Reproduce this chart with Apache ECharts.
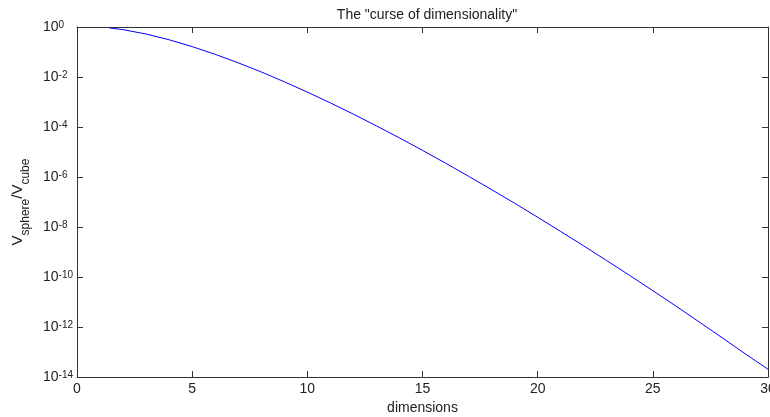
<!DOCTYPE html>
<html>
<head>
<meta charset="utf-8">
<script src="https://cdn.jsdelivr.net/npm/echarts@6/dist/echarts.min.js"></script>
<style>html,body{margin:0;padding:0;background:#fff}#c{width:770px;height:417px}</style>
</head>
<body>
<div id="c"></div>
<script>
var titleText = 'The "curse of dimensionality"';
var xLabel = 'dimensions';
var dims = [1.4, 2, 3, 4, 5, 6, 7, 8, 9, 10, 11, 12, 13, 14, 15, 16, 17, 18, 19, 20, 21, 22, 23, 24, 25, 26, 27, 28, 29, 30];
var ratios = [0.92, 0.785, 0.524, 0.308, 0.164, 0.0807, 0.0369, 0.0159, 0.00644, 0.00249, 9.2e-4, 3.26e-4, 1.11e-4, 3.66e-5, 1.16e-5, 3.59e-6, 1.07e-6, 3.13e-7, 8.9e-8, 2.46e-8, 6.6e-9, 1.76e-9, 4.5e-10, 1.15e-10, 2.84e-11, 6.9e-12, 1.62e-12, 3.76e-13, 8.6e-14, 2.04e-14];
var xTicks = [0, 5, 10, 15, 20, 25, 30];
var yExponents = [0, -2, -4, -6, -8, -10, -12, -14];

var font = 'Liberation Sans, Arial, sans-serif';
var axisColor = '#333';
var textColor = '#222';
var chart = echarts.init(document.getElementById('c'));
var data = dims.map(function (d, i) { return [d, ratios[i]]; });

function yFmt(v) {
  var e = Math.round(Math.log(v) / Math.LN10);
  return '{b|10}{s|' + e + '}';
}
var yRich = {
  b: { fontSize: 14, fontFamily: font, color: textColor, lineHeight: 14, verticalAlign: 'middle' },
  s: { fontSize: 10, fontFamily: font, color: textColor, lineHeight: 10, verticalAlign: 'top' }
};

var commonX = {
  type: 'value', min: xTicks[0], max: xTicks[xTicks.length - 1], interval: 5,
  axisLine: { show: true, onZero: false, lineStyle: { color: axisColor, width: 1 } },
  axisTick: { show: true, inside: true, length: 6, lineStyle: { color: axisColor } },
  splitLine: { show: false }
};
var commonY = {
  type: 'log', logBase: 10, min: Math.pow(10, yExponents[yExponents.length - 1]), max: Math.pow(10, yExponents[0]), interval: 2,
  axisLine: { show: true, onZero: false, lineStyle: { color: axisColor, width: 1 } },
  axisTick: { show: true, inside: true, length: 6, lineStyle: { color: axisColor } },
  splitLine: { show: false }
};

chart.setOption({
  animation: false,
  backgroundColor: '#fff',
  title: {
    text: titleText, left: 422, top: 3, textAlign: 'center',
    textStyle: { fontSize: 14, fontWeight: 'normal', fontFamily: font, color: textColor }
  },
  grid: { left: 77, right: 2, top: 27, bottom: 40, containLabel: false, outerBoundsMode: 'none' },
  xAxis: [
    Object.assign({}, commonX, {
      position: 'bottom',
      name: xLabel, nameLocation: 'middle', nameGap: 24,
      nameTextStyle: { fontSize: 14, fontFamily: font, color: textColor },
      axisLabel: { show: true, margin: 5, fontSize: 14, fontFamily: font, color: textColor }
    }),
    Object.assign({}, commonX, { position: 'top', axisLabel: { show: false } })
  ],
  yAxis: [
    Object.assign({}, commonY, {
      position: 'left',
      name: '{v|V}{s|sphere}{v|/V}{s|cube}',
      nameLocation: 'middle', nameGap: 39, nameRotate: 90,
      nameTextStyle: {
        rich: {
          v: { fontSize: 15, fontFamily: font, color: textColor, lineHeight: 22, verticalAlign: 'top' },
          s: { fontSize: 12, fontFamily: font, color: textColor, lineHeight: 12, verticalAlign: 'bottom' }
        }
      },
      axisLabel: { show: true, align: 'left', margin: 34, formatter: yFmt, rich: yRich }
    }),
    Object.assign({}, commonY, { position: 'right', axisLabel: { show: false } })
  ],
  series: [{
    type: 'line', data: data, xAxisIndex: 0, yAxisIndex: 0,
    showSymbol: false, symbol: 'none', smooth: false,
    lineStyle: { color: '#0000ff', width: 1 }
  }]
});
</script>
</body>
</html>
